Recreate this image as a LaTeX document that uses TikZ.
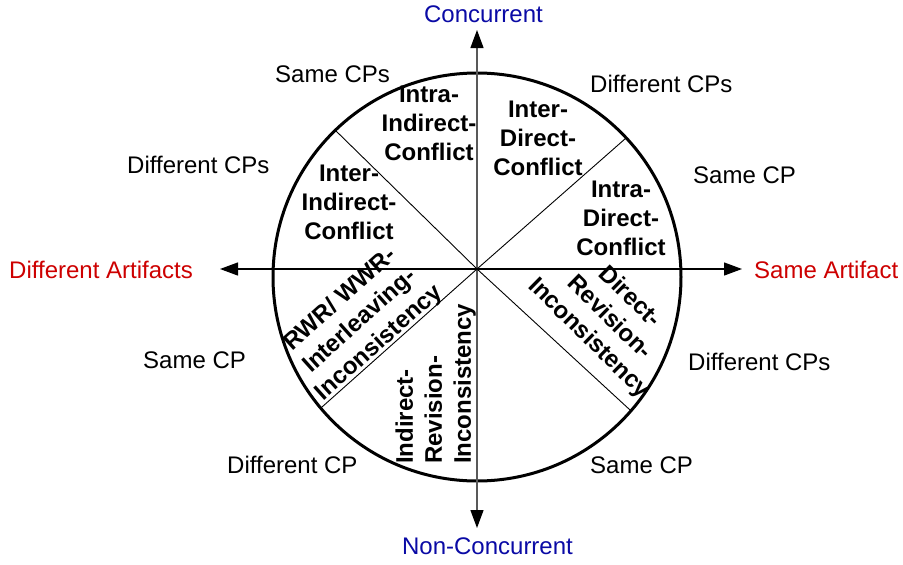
\documentclass[tikz,border=0pt]{standalone}
\usepackage{fontspec}
\setmainfont{Liberation Sans}
\usetikzlibrary{arrows.meta}
\definecolor{axblue}{RGB}{10,10,165}
\definecolor{axred}{RGB}{205,0,0}
\tikzset{
  lbl/.style={font=\fontsize{24}{29}\selectfont, inner sep=0pt, anchor=base west},
  axlbl/.style={font=\fontsize{24}{29}\selectfont, inner sep=0pt},
  blk/.style={font=\fontsize{24}{29}\selectfont\bfseries, align=center, inner sep=0pt},
  vaxis/.style={draw=black!65, line width=1.3pt, {Triangle[length=18pt,width=13pt,fill=black,color=black]}-{Triangle[length=18pt,width=13pt,fill=black,color=black]}},
  haxis/.style={draw=black, line width=1.3pt, {Triangle[length=18pt,width=13pt]}-{Triangle[length=18pt,width=13pt]}},
  divider/.style={draw=black, line width=0.9pt},
  ring/.style={draw=black, circle, line width=3pt, minimum size=408pt, inner sep=0pt, outer sep=0pt}
}
\begin{document}
\begin{tikzpicture}[x=1pt,y=-1pt]
\useasboundingbox (0,0) rectangle (903,565);
% circle
\node[ring] (ring) at (477,277) {};
% axes
\coordinate (O) at (477,269);
\coordinate (topTip) at (477,30);
\coordinate (botTip) at (477,528);
\coordinate (leftTip) at (220,269);
\coordinate (rightTip) at (742,269);
\draw[vaxis] (botTip) -- (topTip);
\draw[haxis] (leftTip) -- (rightTip);
% dividers
\draw[divider] (O) -- (ring.134.4);
\draw[divider] (O) -- (ring.43);
\draw[divider] (O) -- (ring.220);
\draw[divider] (O) -- (ring.319);
% axis labels
\node[axlbl, text=axblue, anchor=base] (conc) at (483.5,22) {Concurrent};
\node[axlbl, text=axblue, anchor=base] (nonconc) at (487.5,554) {Non-Concurrent};
\node[axlbl, text=axred, anchor=base west] (diffart) at (9,278) {Different Artifacts};
\node[axlbl, text=axred, anchor=base west] (sameart) at (754,278) {Same Artifact};
% outer labels
\node[lbl] (l1) at (275,82) {Same CPs};
\node[lbl] (l2) at (590,92) {Different CPs};
\node[lbl] (l3) at (127,173) {Different CPs};
\node[lbl] (l4) at (693,183) {Same CP};
\node[lbl] (l5) at (143,368) {Same CP};
\node[lbl] (l6) at (688,370) {Different CPs};
\node[lbl] (l7) at (227,473) {Different CP};
\node[lbl] (l8) at (590,473) {Same CP};
% sector texts
\node[blk] (s1) at (429,123.5) {Intra-\\Indirect-\\Conflict};
\node[blk] (s2) at (538,138.5) {Inter-\\Direct-\\Conflict};
\node[blk] (s3) at (349,202.5) {Inter-\\Indirect-\\Conflict};
\node[blk] (s4) at (621,218.5) {Intra-\\Direct-\\Conflict};
\node[blk, rotate=-44.5] (s5) at (609,318) {Direct-\\Revision-\\Inconsistency};
\node[blk, rotate=41.9] (s6) at (360,321.5) {RWR/ WWR-\\Interleaving-\\Inconsistency};
\node[blk, align=left, rotate=90, anchor=south west] (s7) at (476,464) {Indirect-\\Revision-\\Inconsistency};
\end{tikzpicture}
\end{document}
